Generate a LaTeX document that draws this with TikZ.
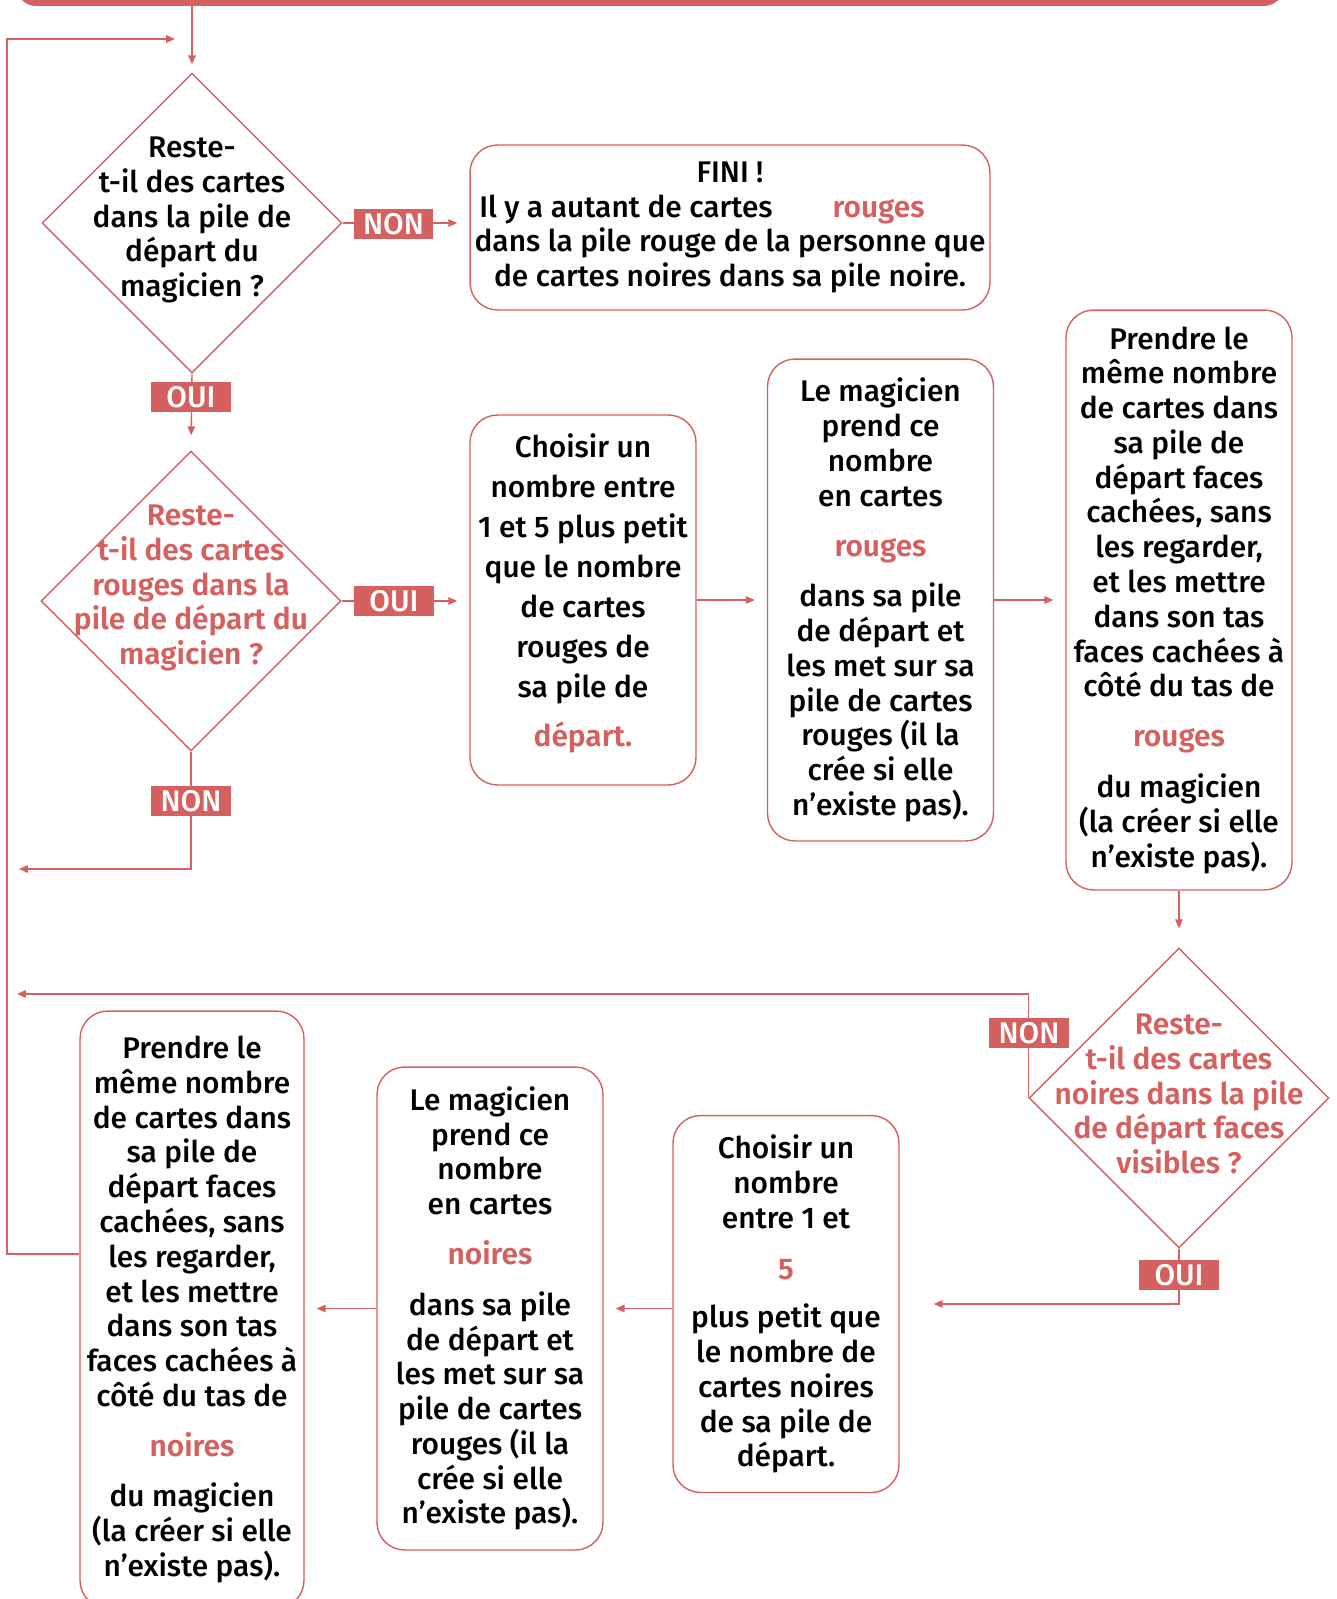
\documentclass[tikz,border=0pt]{standalone}
\usepackage{fontspec}
\setmainfont{Fira Sans}[UprightFont=* Medium, BoldFont=* SemiBold]
\usetikzlibrary{arrows.meta,positioning,shapes.geometric}
\definecolor{rouge}{HTML}{D4615F}
\newcommand{\corps}{\fontsize{17}{19.8}\selectfont}
\newcommand{\motrouge}[1]{\textcolor{rouge}{\bfseries #1}}
\tikzset{
  boite/.style={
    draw=rouge,
    fill=white,
    line width=0.8pt,
    rounded corners=0.55cm,
    minimum width=4.52cm,
    inner sep=0pt,
    align=center,
    font=\corps
  },
  decision/.style={
    diamond,
    aspect=1,
    draw=rouge,
    line width=0.8pt,
    minimum width=6cm,
    minimum height=6cm,
    inner sep=0pt
  },
  question/.style={
    align=center,
    inner sep=0pt,
    font=\corps
  },
  etiq/.style={
    fill=rouge,
    text=white,
    minimum width=1.6cm,
    minimum height=0.6cm,
    inner sep=0pt,
    font=\corps
  },
  fleche/.style={
    -{Triangle[length=1.8mm,width=1.5mm]},
    draw=rouge,
    line width=0.8pt,
    shorten >=0.24cm
  },
  bandeau/.style={
    fill=rouge,
    rounded corners=0.4cm,
    minimum width=25.36cm,
    minimum height=0.8cm
  }
}

\begin{document}
\begin{tikzpicture}[x=0.02cm, y=-0.02cm]
\useasboundingbox (0,0) rectangle (1336,1599);

% premier tour : cartes rouges
\node[bandeau] (debut) at (650,-14) {};
\node[decision] (q1) at (192,223) {};
\node[question, yshift=0.06cm] (q1t) at (q1) {Reste-\\t-il des cartes\\dans la pile de\\départ du\\magicien~?};
\node[boite, minimum width=10.4cm, minimum height=3.3cm] (fini) at (730,227.5)
  {FINI !\\\mbox{Il y a autant de cartes\hspace{1.2cm}\motrouge{rouges}\hspace{1.12cm}}\\dans la pile rouge de la personne que\\de cartes noires dans sa pile noire.};
\node[decision] (q2) at (191,601) {};
\node[question, text=rouge, yshift=0.26cm] (q2t) at (q2) {\bfseries Reste-\\\bfseries t-il des cartes\\\bfseries rouges dans la\\\bfseries pile de départ du\\\bfseries magicien~?};
\node[boite, minimum height=7.4cm, font=\fontsize{17}{22.8}\selectfont] (choixR) at (583,600)
  {Choisir un\\nombre entre\\1 et 5 plus petit\\que le nombre\\de cartes\\rouges de\\sa pile de\\[0.18cm]\motrouge{départ.}\\[-0.4cm]\mbox{}};
\node[boite, minimum height=9.64cm] (prendR) at (880.5,600)
  {Le magicien\\prend ce\\nombre\\en cartes\\[0.32cm]\motrouge{rouges}\\[0.3cm]dans sa pile\\de départ et\\les met sur sa\\pile de cartes\\rouges (il la\\crée si elle\\n’existe pas).};
\node[boite, minimum height=11.6cm] (mettreR) at (1179,600)
  {Prendre le\\même nombre\\de cartes dans\\sa pile de\\départ faces\\cachées, sans\\les regarder,\\et les mettre\\dans son tas\\faces cachées à\\côté du tas de\\[0.3cm]\motrouge{rouges}\\[0.32cm]du magicien\\(la créer si elle\\n’existe pas).};

% second tour : cartes noires
\node[decision] (q3) at (1179,1098) {};
\node[question, text=rouge, yshift=0.08cm] (q3t) at (q3) {\bfseries Reste-\\\bfseries t-il des cartes\\\bfseries noires dans la pile\\\bfseries de départ faces\\\bfseries visibles~?};
\node[boite, minimum height=7.54cm] (choixN) at (786,1304)
  {Choisir un\\nombre\\entre 1 et\\[0.34cm]\motrouge{5}\\[0.26cm]plus petit que\\le nombre de\\cartes noires\\de sa pile de\\départ.};
\node[boite, minimum height=9.66cm] (prendN) at (490,1308.5)
  {Le magicien\\prend ce\\nombre\\en cartes\\[0.3cm]\motrouge{noires}\\[0.32cm]dans sa pile\\de départ et\\les met sur sa\\pile de cartes\\rouges (il la\\crée si elle\\n’existe pas).};
\node[boite, minimum width=4.48cm, minimum height=11.94cm] (mettreN) at (192,1309.5)
  {Prendre le\\même nombre\\de cartes dans\\sa pile de\\départ faces\\cachées, sans\\les regarder,\\et les mettre\\dans son tas\\faces cachées à\\côté du tas de\\[0.3cm]\motrouge{noires}\\[0.32cm]du magicien\\(la créer si elle\\n’existe pas).};

% retours vers la gauche
\coordinate (coin) at (7,39);
\coordinate (jonction) at (192,39);
\coordinate (retA) at (7,869);
\coordinate (retB) at (7,994);

\draw[fleche, shorten >=0.16cm] (debut.south -| q1.north) -- (q1.north);
\draw[fleche] (q1.east) -- (fini.west |- q1.east);
\draw[fleche, shorten >=0.3cm] (q1.south) -- (q2.north);
\draw[fleche] (q2.east) -- (choixR.west |- q2.east);
\draw[fleche] (q2.south) |- (retA);
\draw[fleche] (choixR.east) -- (prendR.west);
\draw[fleche] (prendR.east) -- (mettreR.west);
\draw[fleche, shorten >=0.38cm] (mettreR.south) -- (q3.north);
\draw[fleche, shorten >=0.2cm] (q3.west) |- (retB);
\draw[fleche, shorten >=0.68cm] (q3.south) |- (choixN.east);
\draw[fleche] (choixN.west |- prendN.east) -- (prendN.east);
\draw[fleche] (prendN.west) -- (mettreN.east |- prendN.west);
\draw[fleche, shorten >=0.34cm] (mettreN.west |- 0,1254) -| (coin) -- (jonction);

% etiquettes
\node[etiq] (nonA) at (393.5,224) {NON};
\node[etiq] (ouiA) at (191,397) {OUI};
\node[etiq] (ouiB) at (394,601) {OUI};
\node[etiq] (nonB) at (191,801) {NON};
\node[etiq] (nonC) at (1029,1033) {NON};
\node[etiq] (ouiC) at (1179,1275) {OUI};
\end{tikzpicture}
\end{document}
